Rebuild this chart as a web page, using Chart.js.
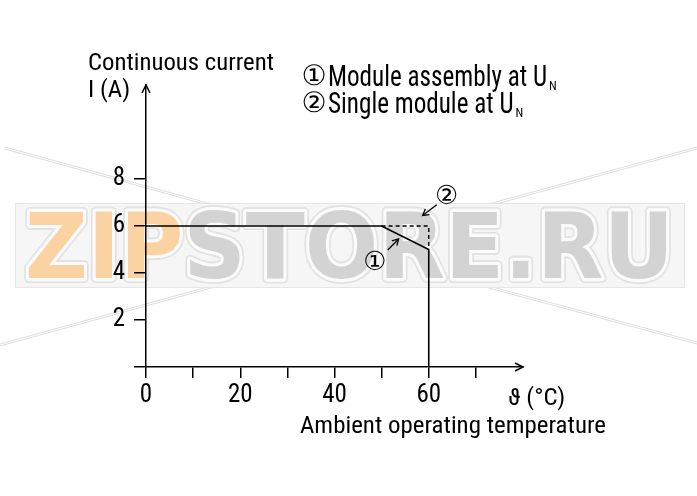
<!DOCTYPE html>
<html>
<head>
<meta charset="utf-8">
<script src="https://cdn.jsdelivr.net/npm/chart.js@4.4.1/dist/chart.umd.min.js"></script>
<style>
  html, body { margin: 0; padding: 0; background: #fff; }
  #wrap { width: 697px; height: 496px; }
</style>
</head>
<body>
<div id="wrap"><canvas id="chart"></canvas></div>
<script>
// derating curves: (1) module assembly, (2) single module
const assemblyTemp = [0, 50, 60, 60]
const assemblyCurrent = [6, 6, 5, 0]
const singleTemp = [50, 60, 60]
const singleCurrent = [6, 6, 5]

const xTicks = [0, 10, 20, 30, 40, 50, 60, 70]
const xTickLabels = ['0', '', '20', '', '40', '', '60', '']
const yTicks = [0, 2, 4, 6, 8]
const yTickLabels = ['', '2', '4', '6', '8']

// pick a narrow face if one is installed
function pickFamily() {
  const c = document.createElement('canvas').getContext('2d')
  const probe = 'Continuous current 0123456789'
  c.font = '40px monospace'
  const base = c.measureText(probe).width
  const list = ['Liberation Sans Narrow', 'Roboto Condensed', 'DejaVu Sans Condensed', 'Roboto']
  for (const f of list) {
    c.font = '40px "' + f + '", monospace'
    if (Math.abs(c.measureText(probe).width - base) > 1) return f
  }
  return 'Roboto'
}
const FAMILY = '"' + pickFamily() + '", "DejaVu Sans", sans-serif'

function font(size) {
  return size + 'px ' + FAMILY
}

// the original face is a narrow DIN; squeeze ours to the same width
let SX = 1
function squeeze(ctx) {
  ctx.font = font(24)
  SX = 306 / ctx.measureText('Ambient operating temperature').width
}

function text(ctx, str, x, y, size, fitWidth) {
  ctx.save()
  ctx.font = font(size)
  const sx = fitWidth ? fitWidth / ctx.measureText(str).width : SX
  ctx.textAlign = 'left'
  ctx.translate(x, y)
  ctx.scale(sx, 1)
  ctx.fillText(str, 0, 0)
  const w = ctx.measureText(str).width * sx
  ctx.restore()
  return w
}

function arrowHead(ctx, x0, y0, x1, y1, len, half) {
  const a = Math.atan2(y1 - y0, x1 - x0)
  ctx.beginPath()
  ctx.moveTo(x1 - len * Math.cos(a) + half * Math.sin(a), y1 - len * Math.sin(a) - half * Math.cos(a))
  ctx.lineTo(x1, y1)
  ctx.lineTo(x1 - len * Math.cos(a) - half * Math.sin(a), y1 - len * Math.sin(a) + half * Math.cos(a))
  ctx.stroke()
}

const annotations = {
  id: 'annotations',
  afterDatasetsDraw(chart) {
    const { ctx, chartArea, scales } = chart
    const x = scales.x, y = scales.y
    ctx.save()
    squeeze(ctx)
    ctx.strokeStyle = '#000'
    ctx.fillStyle = '#000'
    ctx.lineWidth = 1.5

    // axis arrows
    const ox = x.getPixelForValue(0), oy = y.getPixelForValue(0)
    arrowHead(ctx, ox, oy, ox, chartArea.top, 8, 4)
    arrowHead(ctx, ox, oy, chartArea.right, oy, 8, 4)

    // callout arrows
    ctx.lineWidth = 1.3
    let p0 = [x.getPixelForValue(61.7), y.getPixelForValue(6.9)]
    let p1 = [x.getPixelForValue(58.7), y.getPixelForValue(6.45)]
    ctx.beginPath(); ctx.moveTo(p0[0], p0[1]); ctx.lineTo(p1[0], p1[1]); ctx.stroke()
    arrowHead(ctx, p0[0], p0[1], p1[0], p1[1], 6, 3.5)
    p0 = [x.getPixelForValue(51.3), y.getPixelForValue(4.98)]
    p1 = [x.getPixelForValue(53.6), y.getPixelForValue(5.45)]
    ctx.beginPath(); ctx.moveTo(p0[0], p0[1]); ctx.lineTo(p1[0], p1[1]); ctx.stroke()
    arrowHead(ctx, p0[0], p0[1], p1[0], p1[1], 6, 3.5)

    ctx.textBaseline = 'middle'
    ctx.textAlign = 'center'
    ctx.font = font(26)
    ctx.fillText('\u2461', x.getPixelForValue(63.8), y.getPixelForValue(7.2))
    ctx.fillText('\u2460', x.getPixelForValue(48.6), y.getPixelForValue(4.4))

    // axis titles
    ctx.textBaseline = 'alphabetic'
    text(ctx, 'Continuous current', 88, 70, 24, 186)
    text(ctx, 'I (A)', 88, 97, 24)
    text(ctx, '\u03d1 (\u00b0C)', 508, 405, 24)
    text(ctx, 'Ambient operating temperature', 300, 433, 24, 306)

    // legend
    const legend = [['\u2460', 'Module assembly at U', 86], ['\u2461', 'Single module at U', 113]]
    const legendSX = 219 / (function () { ctx.font = font(29); return ctx.measureText('Module assembly at U').width })()
    for (const [mark, str, base] of legend) {
      ctx.font = font(28)
      ctx.textAlign = 'center'
      ctx.fillText(mark, 314, base - 1)
      ctx.font = font(29)
      const w = text(ctx, str, 328, base, 29, ctx.measureText(str).width * legendSX)
      text(ctx, 'N', 328 + w + 2, base + 4, 12)
    }
    ctx.restore()
  },
}

// ZIPSTORE.RU watermark, multiplied over the drawing
const watermark = {
  id: 'watermark',
  afterDraw(chart) {
    const { ctx, width, height } = chart
    const off = document.createElement('canvas')
    off.width = width
    off.height = height
    const g = off.getContext('2d')
    g.fillStyle = '#fff'
    g.fillRect(0, 0, width, height)

    g.strokeStyle = '#dedede'
    g.lineWidth = 1
    const lines = [[5, 148, 215, 206], [0, 345, 215, 286], [697, 148, 485, 206], [697, 343, 485, 286]]
    for (const [a, b, c, d] of lines) {
      for (const dy of [-1, 1]) {
        g.beginPath(); g.moveTo(a, b + dy); g.lineTo(c, d + dy); g.stroke()
      }
    }

    g.fillStyle = '#f6f6f6'
    g.fillRect(15, 203, 670, 85)
    g.strokeStyle = '#e6e6e6'
    g.strokeRect(15.5, 203.5, 669, 84)

    g.font = 'bold 100px "DejaVu Sans"'
    const full = g.measureText('ZIPSTORE.RU').width
    const zip = g.measureText('ZIP').width
    const sx = 649 / full, sy = 66 / 73
    g.save()
    g.translate(25, 278)
    g.scale(sx, sy)
    g.lineJoin = 'round'
    const parts = [['ZIP', 0, '#fbd2a2'], ['STORE.RU', zip, '#d3d3d3']]
    for (const [t, dx, col] of parts) {
      g.strokeStyle = '#e2e2e2'
      g.lineWidth = 11
      g.strokeText(t, dx, 0)
      g.strokeStyle = '#fbfbfb'
      g.lineWidth = 7
      g.strokeText(t, dx, 0)
      g.fillStyle = col
      g.fillText(t, dx, 0)
    }
    g.restore()

    ctx.save()
    ctx.globalCompositeOperation = 'multiply'
    ctx.drawImage(off, 0, 0, width, height)
    ctx.restore()
  },
}

Chart.defaults.font.family = FAMILY
Chart.defaults.color = '#000'

new Chart(document.getElementById('chart'), {
  type: 'scatter',
  data: {
    datasets: [
      {
        label: 'Module assembly at UN',
        data: assemblyTemp.map((t, i) => ({ x: t, y: assemblyCurrent[i] })),
        showLine: true,
        borderColor: '#000',
        borderWidth: 1.6,
        pointRadius: 0,
      },
      {
        label: 'Single module at UN',
        data: singleTemp.map((t, i) => ({ x: t, y: singleCurrent[i] })),
        showLine: true,
        borderColor: '#000',
        borderWidth: 1.4,
        borderDash: [4, 3],
        pointRadius: 0,
      },
    ],
  },
  options: {
    responsive: true,
    maintainAspectRatio: false,
    animation: false,
    layout: { padding: { left: 0, right: 174, top: 85, bottom: 0 } },
    scales: {
      x: {
        type: 'linear',
        min: 0,
        max: 80,
        afterBuildTicks: (s) => { s.ticks = xTicks.map((v) => ({ value: v })) },
        afterFit: (s) => { s.height = 129 },
        ticks: {
          font: { size: 25 },
          padding: 3,
          maxRotation: 0,
          autoSkip: false,
          callback: (v) => xTickLabels[xTicks.indexOf(v)] ?? '',
        },
        grid: { drawOnChartArea: false, drawTicks: true, tickLength: 11, color: '#000', lineWidth: 1.5 },
        border: { display: true, color: '#000', width: 1.5 },
      },
      y: {
        type: 'linear',
        min: 0,
        max: 12,
        afterBuildTicks: (s) => { s.ticks = yTicks.map((v) => ({ value: v })) },
        afterFit: (s) => { s.width = 146 },
        ticks: {
          font: { size: 25 },
          padding: 9,
          autoSkip: false,
          callback: (v) => yTickLabels[yTicks.indexOf(v)] ?? '',
        },
        grid: { drawOnChartArea: false, drawTicks: true, tickLength: 12, color: '#000', lineWidth: 1.5 },
        border: { display: true, color: '#000', width: 1.5 },
      },
    },
    plugins: {
      legend: { display: false },
      tooltip: { enabled: false },
    },
  },
  plugins: [annotations, watermark],
})
</script>
</body>
</html>
